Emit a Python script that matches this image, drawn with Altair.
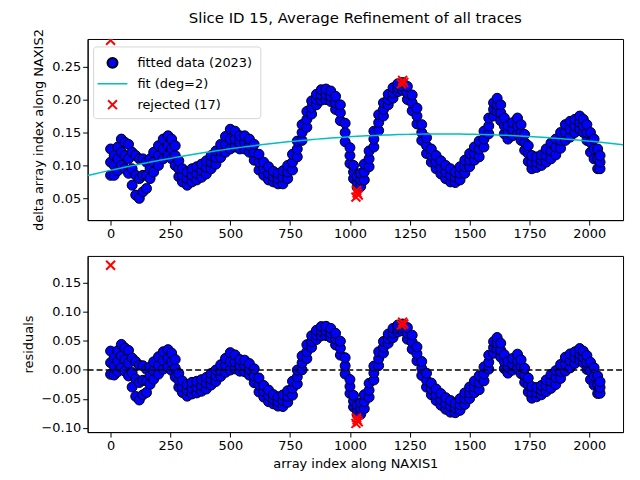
import altair as alt
import pandas as pd
import numpy as np

# data (centre track, lower and upper spread)
xs = [0,15,30,45,60,75,90,105,120,135,150,165,180,200,220,240,255,270,285,300,320,340,360,380,400,420,440,460,480,500,520,540,560,580,600,620,640,660,680,700,720,740,760,780,800,820,840,860,880,900,920,940,960,980,1000,1015,1030,1045,1060,1080,1100,1120,1140,1160,1180,1200,1220,1240,1260,1280,1300,1320,1340,1360,1380,1400,1420,1440,1460,1480,1500,1520,1540,1560,1580,1600,1615,1630,1645,1660,1680,1700,1715,1730,1745,1760,1780,1800,1820,1840,1860,1880,1900,1920,1940,1960,1975,1990,2005,2020,2035,2045]
y_mid = [0.105,0.100,0.110,0.120,0.115,0.110,0.095,0.085,0.080,0.085,0.085,0.095,0.105,0.115,0.125,0.130,0.125,0.115,0.095,0.085,0.080,0.085,0.088,0.092,0.097,0.105,0.112,0.122,0.132,0.140,0.140,0.135,0.135,0.130,0.120,0.105,0.095,0.088,0.083,0.080,0.082,0.090,0.105,0.125,0.150,0.170,0.188,0.200,0.207,0.208,0.205,0.195,0.180,0.150,0.115,0.090,0.075,0.078,0.090,0.110,0.140,0.165,0.185,0.200,0.210,0.218,0.220,0.210,0.195,0.175,0.150,0.130,0.115,0.105,0.097,0.090,0.085,0.082,0.088,0.098,0.108,0.118,0.125,0.140,0.160,0.185,0.192,0.180,0.160,0.150,0.155,0.160,0.150,0.135,0.118,0.105,0.105,0.108,0.115,0.122,0.128,0.138,0.150,0.155,0.160,0.165,0.160,0.150,0.135,0.125,0.110,0.105]
y_spread = [0.020,0.015,0.018,0.020,0.020,0.022,0.025,0.030,0.030,0.025,0.020,0.015,0.015,0.015,0.015,0.015,0.015,0.015,0.012,0.010,0.010,0.010,0.010,0.010,0.010,0.010,0.010,0.010,0.012,0.015,0.012,0.010,0.010,0.010,0.012,0.012,0.010,0.010,0.008,0.008,0.010,0.010,0.012,0.012,0.012,0.012,0.010,0.008,0.008,0.008,0.008,0.010,0.012,0.014,0.012,0.010,0.008,0.010,0.012,0.012,0.012,0.012,0.010,0.008,0.008,0.006,0.006,0.010,0.012,0.012,0.012,0.012,0.010,0.010,0.010,0.010,0.010,0.008,0.010,0.010,0.010,0.010,0.012,0.012,0.012,0.010,0.010,0.012,0.012,0.010,0.010,0.012,0.012,0.012,0.012,0.010,0.008,0.008,0.010,0.012,0.012,0.012,0.012,0.012,0.010,0.010,0.010,0.012,0.015,0.015,0.015,0.010]

rej_x = [0, 1025, 1030, 1035, 1028, 1215, 1220, 1225]
rej_y = [0.290, 0.052, 0.058, 0.055, 0.062, 0.224, 0.229, 0.226]

# fitted polynomial read at a few places
fit_x = [-96, 0, 250, 500, 750, 1000, 1250, 1500, 1750, 2000, 2141]
fit_y = [0.083, 0.092, 0.113, 0.127, 0.137, 0.143, 0.146, 0.146, 0.143, 0.138, 0.132]

coef = np.polyfit(fit_x, fit_y, 2)
rows = []
for x, m, s in zip(xs, y_mid, y_spread):
    for y in (m - s, m, m + s):
        rows.append({"x": x, "y": y, "r": y - np.polyval(coef, x)})
pts = pd.DataFrame(rows)
rej = pd.DataFrame({"x": rej_x, "y": rej_y,
                    "r": [y - np.polyval(coef, x) for x, y in zip(rej_x, rej_y)]})
rej.loc[0, "r"] = 0.18
fx = np.linspace(-96, 2141, 120)
fit = pd.DataFrame({"x": fx, "y": np.polyval(coef, fx)})

font = "DejaVu Sans"
XSHAPE = "M-1,-1L1,1M1,-1L-1,1"
xs_ = alt.Scale(domain=[-96, 2141], nice=False, zero=False)
xax = alt.Axis(values=[0,250,500,750,1000,1250,1500,1750,2000], grid=False, labelFlush=False,
               format="d", labelOverlap=False)
top_s = alt.Scale(domain=[0.017, 0.292], nice=False, zero=False)
bot_s = alt.Scale(domain=[-0.107, 0.196], nice=False, zero=False)
top_ax = alt.Axis(values=[0.05,0.1,0.15,0.2,0.25], format=".2f", grid=False, labelOverlap=False)
bot_ax = alt.Axis(values=[-0.10,-0.05,0.0,0.05,0.10,0.15], format=".2f", grid=False, labelOverlap=False)

W = 538
def circles():
    return alt.Chart(pts).mark_point(shape="circle", filled=True, size=100, color="#0000ff",
                                     stroke="black", strokeWidth=1, opacity=1)
def crosses(ycol, sc, ax, title):
    return alt.Chart(rej).mark_point(shape=XSHAPE, size=80, color="red", filled=False,
                                     strokeWidth=2, opacity=1, clip=True).encode(
        x=alt.X("x:Q", scale=xs_, axis=xax),
        y=alt.Y(f"{ycol}:Q", scale=sc, axis=ax, title=title))

T1 = "delta array index along NAXIS2"
top_pts = circles().encode(x=alt.X("x:Q", scale=xs_, axis=xax, title=None),
                           y=alt.Y("y:Q", scale=top_s, title=T1, axis=top_ax))
top_fit = alt.Chart(fit).mark_line(color="#00bfbf", strokeWidth=1.5).encode(
    x=alt.X("x:Q", scale=xs_, axis=xax, title=None), y=alt.Y("y:Q", scale=top_s, axis=top_ax, title=T1))

# legend
lg = pd.DataFrame({"k": [0]})
box = alt.Chart(lg).mark_rect(fill="white", stroke="#cccccc", opacity=0.8, cornerRadius=3).encode(
    x=alt.value(6), x2=alt.value(174), y=alt.value(8), y2=alt.value(80))
l1 = alt.Chart(lg).mark_point(shape="circle", filled=True, size=100, color="#0000ff", stroke="black", opacity=1).encode(
    x=alt.value(25), y=alt.value(24))
l2 = alt.Chart(lg).mark_rule(color="#00bfbf", strokeWidth=1.5).encode(x=alt.value(10), x2=alt.value(40), y=alt.value(45))
l3 = alt.Chart(lg).mark_point(shape=XSHAPE, size=80, color="red", filled=False, strokeWidth=2, opacity=1).encode(
    x=alt.value(25), y=alt.value(66))
texts = pd.DataFrame({"t": ["fitted data (2023)", "fit (deg=2)", "rejected (17)"], "yy": [24, 45, 66]})
lt = alt.Chart(texts).mark_text(align="left", baseline="middle", fontSize=13, font=font).encode(
    x=alt.value(50), y=alt.Y("yy:Q", scale=None), text="t:N")

top = alt.layer(top_pts, top_fit, crosses("y", top_s, top_ax, T1), box, l1, l2, l3, lt).properties(
    width=W, height=182, title=alt.TitleParams("Slice ID 15, Average Refinement of all traces",
                                               fontSize=15, fontWeight="normal", font=font, offset=3))

T2 = "residuals"
XT = "array index along NAXIS1"
bot_pts = circles().encode(x=alt.X("x:Q", scale=xs_, axis=xax, title=XT),
                           y=alt.Y("r:Q", scale=bot_s, title=T2, axis=bot_ax))
zero = alt.Chart(lg).mark_rule(color="black", strokeDash=[6, 3], strokeWidth=1.5).encode(
    y=alt.Y(datum=0, scale=bot_s, axis=bot_ax, title=T2), x=alt.value(0), x2=alt.value(W))
bot = alt.layer(bot_pts, zero, crosses("r", bot_s, bot_ax, T2)).properties(width=W, height=177)

chart = alt.vconcat(top, bot, spacing=14).configure_view(stroke="black", strokeWidth=1).configure_axis(
    labelFont=font, titleFont=font, labelFontSize=13, titleFontSize=13, titleFontWeight="normal",
    domainColor="black", tickColor="black", labelColor="black", titleColor="black", titlePadding=6,
    labelOverlap=False
).properties(padding={"left": 13, "top": 0, "right": 5, "bottom": 5})

chart.save("out.html", embed_options={"renderer": "svg", "actions": False})
